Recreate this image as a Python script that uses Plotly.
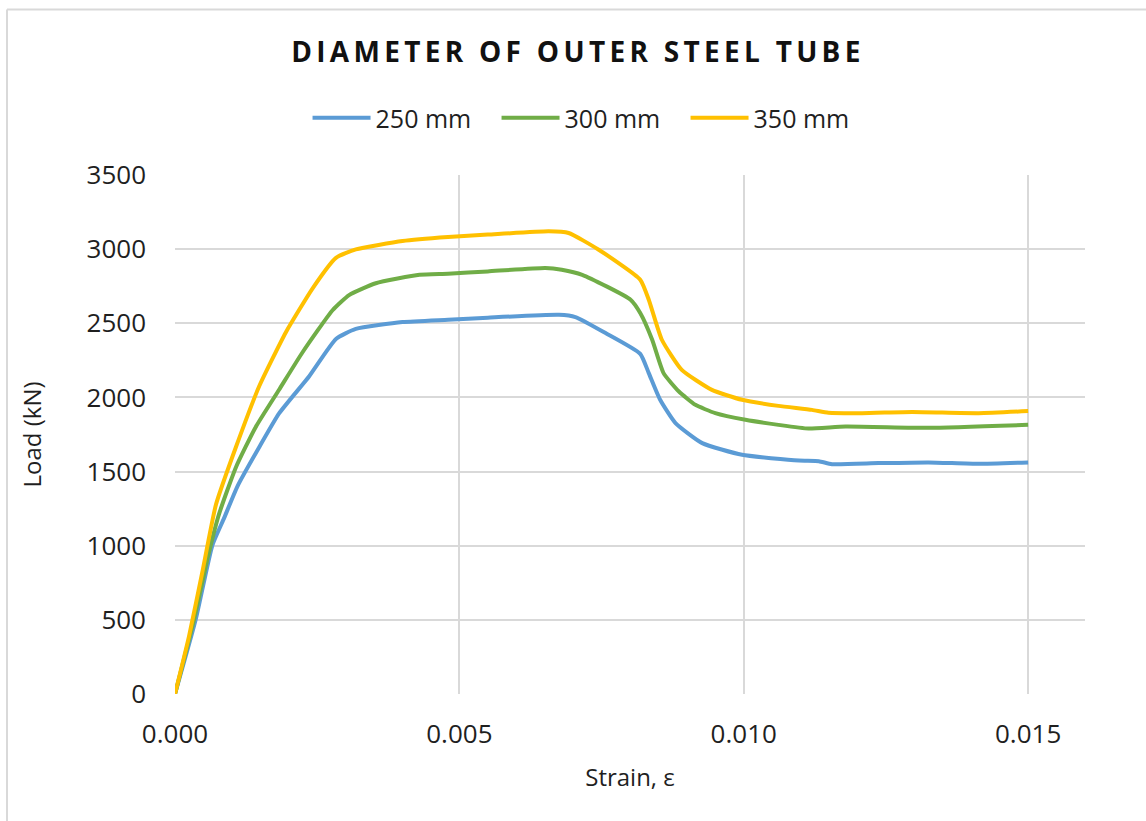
import plotly.graph_objects as go

# 250 mm
strain_250 = [0, 0.000364, 0.000657, 0.000863, 0.0011, 0.00148, 0.00183, 0.00236, 0.00283, 0.00318,
              0.0040, 0.0048, 0.0055, 0.00675, 0.00704, 0.00757, 0.00818, 0.00833, 0.00853, 0.0088,
              0.00927, 0.00997, 0.01097, 0.01132, 0.01155, 0.01237, 0.01325, 0.01413, 0.0150]
load_250 = [0, 502, 1003, 1186, 1402, 1664, 1892, 2143, 2394, 2462,
            2508, 2524, 2538, 2557, 2542, 2434, 2294, 2164, 1984, 1827,
            1692, 1613, 1574, 1570, 1550, 1557, 1562, 1552, 1562]

# 300 mm
strain_300 = [0, 0.000335, 0.00057, 0.00077, 0.00107, 0.00142, 0.00183, 0.00224, 0.00277, 0.00306,
              0.00353, 0.0043, 0.0048, 0.0055, 0.00651, 0.0068, 0.00716, 0.00801, 0.00818, 0.00839,
              0.00859, 0.00886, 0.00915, 0.0095, 0.01003, 0.01061, 0.01114, 0.01179, 0.01325, 0.0150]
load_300 = [0, 502, 912, 1208, 1528, 1801, 2052, 2303, 2588, 2690,
            2770, 2827, 2834, 2850, 2873, 2861, 2827, 2659, 2569, 2389,
            2164, 2040, 1950, 1894, 1849, 1815, 1790, 1804, 1795, 1815]

# 350 mm
strain_350 = [0, 0.000246, 0.00048, 0.00072, 0.00107, 0.00148, 0.00195, 0.00242, 0.00283, 0.00318,
              0.0040, 0.0048, 0.0055, 0.00657, 0.00692, 0.00745, 0.00818, 0.00833, 0.00856, 0.00891,
              0.00944, 0.00997, 0.01061, 0.0112, 0.01149, 0.01208, 0.01296, 0.01413, 0.0150]
load_350 = [0, 388, 821, 1277, 1664, 2075, 2440, 2736, 2941, 2998,
            3055, 3082, 3098, 3120, 3109, 2996, 2794, 2659, 2389, 2186,
            2051, 1984, 1943, 1916, 1897, 1894, 1902, 1894, 1908]

series_names = ["250 mm", "300 mm", "350 mm"]
colors = ["#5B9BD5", "#70AD47", "#FFC000"]

x_ticks = [0, 0.005, 0.010, 0.015]
x_tick_labels = ["0.000", "0.005", "0.010", "0.015"]
y_ticks = [0, 500, 1000, 1500, 2000, 2500, 3000, 3500]

FONT = "Open Sans"
TXT = "#1f1f1f"

fig = go.Figure()
for name, xs, ys, c in zip(series_names, [strain_250, strain_300, strain_350],
                           [load_250, load_300, load_350], colors):
    fig.add_trace(go.Scatter(x=xs, y=ys, name=name, mode="lines",
                             line=dict(color=c, width=4, shape="spline", smoothing=0.5)))

W, H = 1146, 821
L, R, T, B = 175, 1085, 175, 694
pw, ph = R - L, B - T

def px(x):
    return (x - L) / pw

def py(y):
    return (B - y) / ph

fig.update_layout(
    width=W, height=H,
    margin=dict(l=L, r=W - R, t=T, b=H - B, pad=0),
    paper_bgcolor="white", plot_bgcolor="white",
    font=dict(family=FONT, color=TXT),
    title=dict(text='<span style="letter-spacing:4.3px"><b>DIAMETER OF OUTER STEEL TUBE</b></span>',
               x=578 / W, xanchor="center",
               y=1 - 52 / H, yanchor="middle", xref="container", yref="container",
               font=dict(family=FONT, size=28, color="#111111")),
    legend=dict(orientation="h", x=px(313) - 0.006, xanchor="left", y=py(118), yanchor="middle",
                font=dict(family=FONT, size=25, color=TXT),
                itemwidth=58, entrywidth=116, entrywidthmode="pixels",
                tracegroupgap=0, bgcolor="rgba(0,0,0,0)"),
    showlegend=True,
)

fig.update_xaxes(range=[0, 0.016], tickvals=x_ticks, ticktext=x_tick_labels,
                 showgrid=True, gridcolor="#d9d9d9", gridwidth=2, zeroline=False,
                 showline=False, ticks="", ticklabelstandoff=22,
                 tickfont=dict(family=FONT, size=26, color=TXT),
                 title=dict(text="Strain, ε", font=dict(family=FONT, size=24, color=TXT),
                            standoff=19))
fig.update_yaxes(range=[0, 3500], tickvals=y_ticks,
                 showgrid=True, gridcolor="#d9d9d9", gridwidth=2, zeroline=False,
                 showline=False, ticks="", ticklabelstandoff=28,
                 tickfont=dict(family=FONT, size=26, color=TXT),
                 title=dict(text="Load (kN)", font=dict(family=FONT, size=24, color=TXT),
                            standoff=38))

# outer chart border (left and top edges visible)
fig.add_shape(type="line", xref="paper", yref="paper", x0=px(7), x1=px(W + 5), y0=py(9.5), y1=py(9.5),
              line=dict(color="#d9d9d9", width=2))
fig.add_shape(type="line", xref="paper", yref="paper", x0=px(7), x1=px(7), y0=py(9.5), y1=py(H + 5),
              line=dict(color="#d9d9d9", width=2))

fig.write_html("out.html")
